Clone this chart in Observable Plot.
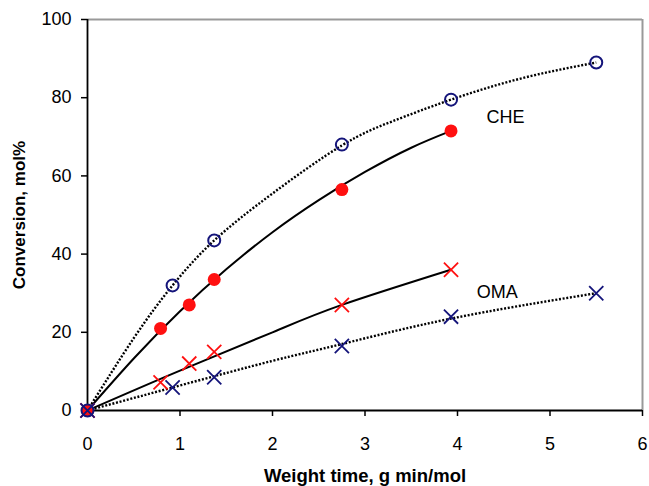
<!DOCTYPE html>
<html><head><meta charset="utf-8">
<script src="https://cdn.jsdelivr.net/npm/d3@7"></script>
<script src="https://cdn.jsdelivr.net/npm/@observablehq/plot@0.6"></script>
<style>body{margin:0;background:#fff}</style>
</head><body><div id="chart"></div>
<script>
// Measured points
const blueX = [0, 0.92, 1.37, 2.75, 3.93, 5.5];
const redX = [0, 0.79, 1.1, 1.37, 2.75, 3.93];
const blueCHE = [0, 32, 43.5, 68, 79.5, 89];      // open circles
const redCHE = [0, 21, 27, 33.5, 56.5, 71.5];      // filled circles
const redOMA = [0, 7.2, 12, 15, 27, 36];           // red crosses
const blueOMA = [0, 5.9, 8.5, 16.5, 24, 30];       // blue crosses

// Trend lines
const fitBlueCHEx = [0, 0.5, 0.92, 1.37, 2, 2.75, 3.3, 3.93, 4.7, 5.5];
const fitBlueCHEy = [0, 18.5, 32, 43.5, 55.5, 67.8, 74, 79.5, 85, 89];
const fitRedCHEx = [0, 0.5, 1, 1.5, 2, 2.5, 3, 3.5, 3.93];
const fitRedCHEy = [0, 13.3, 25.4, 36.1, 45.6, 53.8, 61, 67.2, 71.5];
const fitRedOMAx = [0, 1, 2, 2.75, 3.93];
const fitRedOMAy = [0, 10.2, 20, 27, 36];
const fitBlueOMAx = [0, 1, 2, 2.75, 3.93, 5.5];
const fitBlueOMAy = [0, 6.4, 12.7, 17, 23.5, 30];

const xTicks = [0, 1, 2, 3, 4, 5, 6];
const yTicks = [0, 20, 40, 60, 80, 100];
const labels = [{x: 4.52, y: 75, t: "CHE"}, {x: 4.43, y: 30.3, t: "OMA"}];

const zip = (xs, ys) => xs.map((x, i) => ({x, y: ys[i]}));
const FONT = "Liberation Sans, Arial, sans-serif";
const BLUE = "#14147a", RED = "#ff1010";
const DOTS = "2,1.7";

const chart = Plot.plot({
  width: 649, height: 486,
  marginLeft: 87, marginRight: 7, marginTop: 19, marginBottom: 76,
  style: {fontFamily: FONT, fontSize: "18px", background: "#fff", color: "#000"},
  x: {domain: [0, 6]},
  y: {domain: [0, 100]},
  marks: [
    Plot.ruleY([100], {stroke: "#999", strokeWidth: 2}),
    Plot.ruleX([6], {stroke: "#999", strokeWidth: 2}),
    Plot.axisX({ticks: xTicks, tickFormat: "d", tickSize: 6, tickPadding: 21, fontSize: 18, label: null, stroke: "#000", strokeWidth: 1.5}),
    Plot.axisY({ticks: yTicks, tickFormat: "d", tickSize: 6, tickPadding: 10, fontSize: 18, label: null, stroke: "#000", strokeWidth: 1.5}),
    Plot.ruleX([0], {stroke: "#000", strokeWidth: 1.8}),
    Plot.ruleY([0], {stroke: "#000", strokeWidth: 1.8}),
    Plot.line(zip(fitBlueCHEx, fitBlueCHEy), {x: "x", y: "y", curve: "natural", stroke: "#000", strokeWidth: 2.4, strokeDasharray: DOTS, strokeLinecap: "butt"}),
    Plot.line(zip(fitRedCHEx, fitRedCHEy), {x: "x", y: "y", curve: "natural", stroke: "#000", strokeWidth: 2}),
    Plot.line(zip(fitRedOMAx, fitRedOMAy), {x: "x", y: "y", curve: "natural", stroke: "#000", strokeWidth: 2}),
    Plot.line(zip(fitBlueOMAx, fitBlueOMAy), {x: "x", y: "y", curve: "natural", stroke: "#000", strokeWidth: 2.4, strokeDasharray: DOTS, strokeLinecap: "butt"}),
    Plot.dot(zip(redX, redCHE), {x: "x", y: "y", r: 6.5, fill: RED, stroke: "none"}),
    Plot.dot(zip(redX, redOMA), {x: "x", y: "y", r: 6.5, symbol: "times", stroke: RED, strokeWidth: 1.8}),
    Plot.dot(zip(blueX, blueCHE), {x: "x", y: "y", r: 6, fill: "none", stroke: BLUE, strokeWidth: 2}),
    Plot.dot(zip(blueX, blueOMA), {x: "x", y: "y", r: 6.5, symbol: "times", stroke: BLUE, strokeWidth: 1.8}),
    Plot.text(labels, {x: "x", y: "y", text: "t", fontSize: 18, fill: "#000"}),
    Plot.text(["Weight time, g min/mol"], {frameAnchor: "bottom", lineAnchor: "middle", textAnchor: "middle", dy: 66, fontSize: 18.5, fontWeight: "bold", fill: "#000"}),
    Plot.text(["Conversion, mol%"], {frameAnchor: "left", textAnchor: "middle", lineAnchor: "middle", dx: -68, rotate: -90, fontSize: 17, fontWeight: "bold", fill: "#000"})
  ]
});
document.getElementById("chart").append(chart);
</script>
</body></html>
